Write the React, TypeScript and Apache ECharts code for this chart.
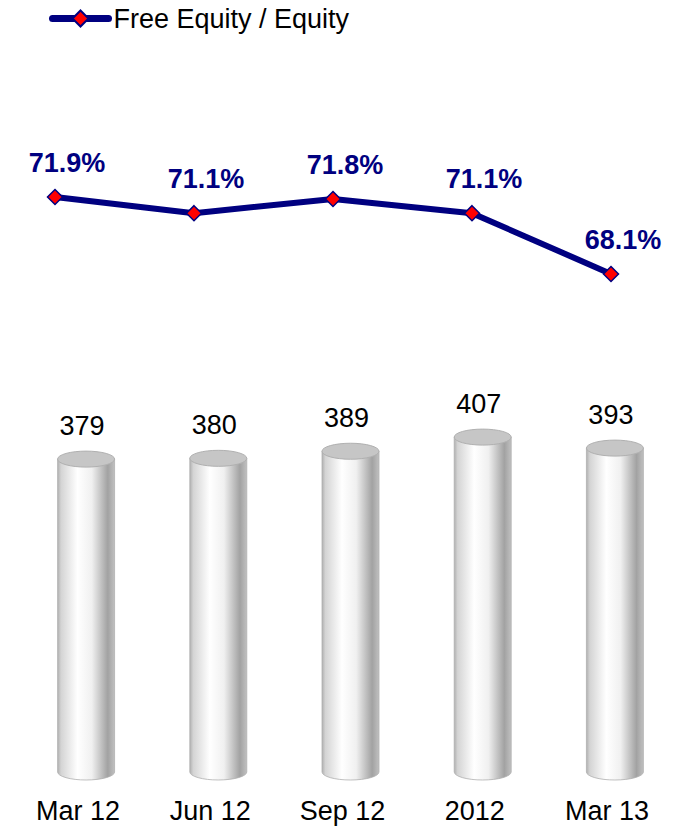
import React, { useEffect, useRef } from "react";
import * as echarts from "echarts";

const categories = ["Mar 12", "Jun 12", "Sep 12", "2012", "Mar 13"];
const equityValues = [379, 380, 389, 407, 393];
const ratioValues = [71.9, 71.1, 71.8, 71.1, 68.1];
const seriesName = "Free Equity / Equity";

const FONT = "'Liberation Sans', Arial, sans-serif";
const NAVY = "#000080";

export default function App() {
  const ref = useRef<HTMLDivElement>(null);

  useEffect(() => {
    document.body.style.margin = "0";
    if (!ref.current) return;
    const chart = echarts.init(ref.current, null, { renderer: "svg" });

    const bodyFill = new echarts.graphic.LinearGradient(0, 0, 1, 0, [
      { offset: 0, color: "#b0b0b0" },
      { offset: 0.06, color: "#d4d4d4" },
      { offset: 0.35, color: "#ffffff" },
      { offset: 0.6, color: "#f0f0f0" },
      { offset: 0.88, color: "#a2a2a2" },
      { offset: 1, color: "#c0c0c0" },
    ]);

    const option: any = {
      animation: false,
      legend: {
        data: [seriesName],
        left: 44,
        top: 0,
        itemWidth: 56,
        itemHeight: 20,
        lineStyle: { width: 7, cap: "round" },
        textStyle: { fontSize: 27, color: "#000", fontFamily: FONT },
      },
      grid: [
        { left: 20, right: 9, top: 364, bottom: 69 },
        { left: 55, right: 79, top: 154.4, height: 162.1 },
      ],
      xAxis: [
        {
          type: "category",
          gridIndex: 0,
          data: categories,
          boundaryGap: true,
          axisLine: { show: false },
          axisTick: { show: false },
          axisLabel: {
            fontSize: 27,
            color: "#000",
            fontFamily: FONT,
            margin: 40,
            padding: [0, 16, 0, 0],
          },
        },
        {
          type: "category",
          gridIndex: 1,
          data: categories,
          boundaryGap: false,
          show: false,
        },
      ],
      yAxis: [
        { type: "value", gridIndex: 0, min: 0, max: 500, show: false },
        { type: "value", gridIndex: 1, min: 66, max: 74, show: false },
      ],
      series: [
        {
          type: "custom",
          xAxisIndex: 0,
          yAxisIndex: 0,
          clip: false,
          data: equityValues.map((v, i) => [i, v]),
          encode: { x: 0, y: 1 },
          renderItem: (params: any, api: any) => {
            const idx = api.value(0);
            const v = api.value(1);
            const top = api.coord([idx, v]);
            const base = api.coord([idx, 0]);
            const w = api.size([1, 0])[0] * 0.431;
            const rx = w / 2;
            const ry = 8;
            const cx = top[0];
            const yT = top[1];
            const yB = base[1] + 15;
            const body = `M ${cx - rx} ${yT} L ${cx - rx} ${yB} A ${rx} ${ry} 0 0 0 ${cx + rx} ${yB} L ${cx + rx} ${yT} Z`;
            const cap = `M ${cx - rx} ${yT} A ${rx} ${ry} 0 1 0 ${cx + rx} ${yT} A ${rx} ${ry} 0 1 0 ${cx - rx} ${yT} Z`;
            return {
              type: "group",
              children: [
                {
                  type: "path",
                  shape: { pathData: body },
                  style: { fill: bodyFill, stroke: "#b0b0b0", lineWidth: 0.8 },
                },
                {
                  type: "path",
                  shape: { pathData: cap },
                  style: { fill: "#c6c6c6", stroke: "#b0b0b0", lineWidth: 1 },
                },
                {
                  type: "text",
                  x: cx - 4,
                  y: yT - 33,
                  style: {
                    text: String(v),
                    fontSize: 27,
                    fontFamily: FONT,
                    fill: "#000",
                    align: "center",
                    verticalAlign: "middle",
                  },
                },
              ],
            };
          },
        },
        {
          name: seriesName,
          type: "line",
          xAxisIndex: 1,
          yAxisIndex: 1,
          data: ratioValues,
          symbol: "diamond",
          symbolSize: 15,
          lineStyle: { color: NAVY, width: 6 },
          itemStyle: { color: "#ff0000", borderColor: NAVY, borderWidth: 1.5 },
          label: {
            show: true,
            position: "top",
            distance: 12,
            offset: [12, 0],
            color: NAVY,
            fontWeight: "bold",
            fontSize: 27,
            fontFamily: FONT,
            formatter: (p: any) => Number(p.value).toFixed(1) + "%",
          },
        },
      ],
    };

    chart.setOption(option);
    return () => chart.dispose();
  }, []);

  return <div ref={ref} style={{ width: 690, height: 826 }} />;
}
